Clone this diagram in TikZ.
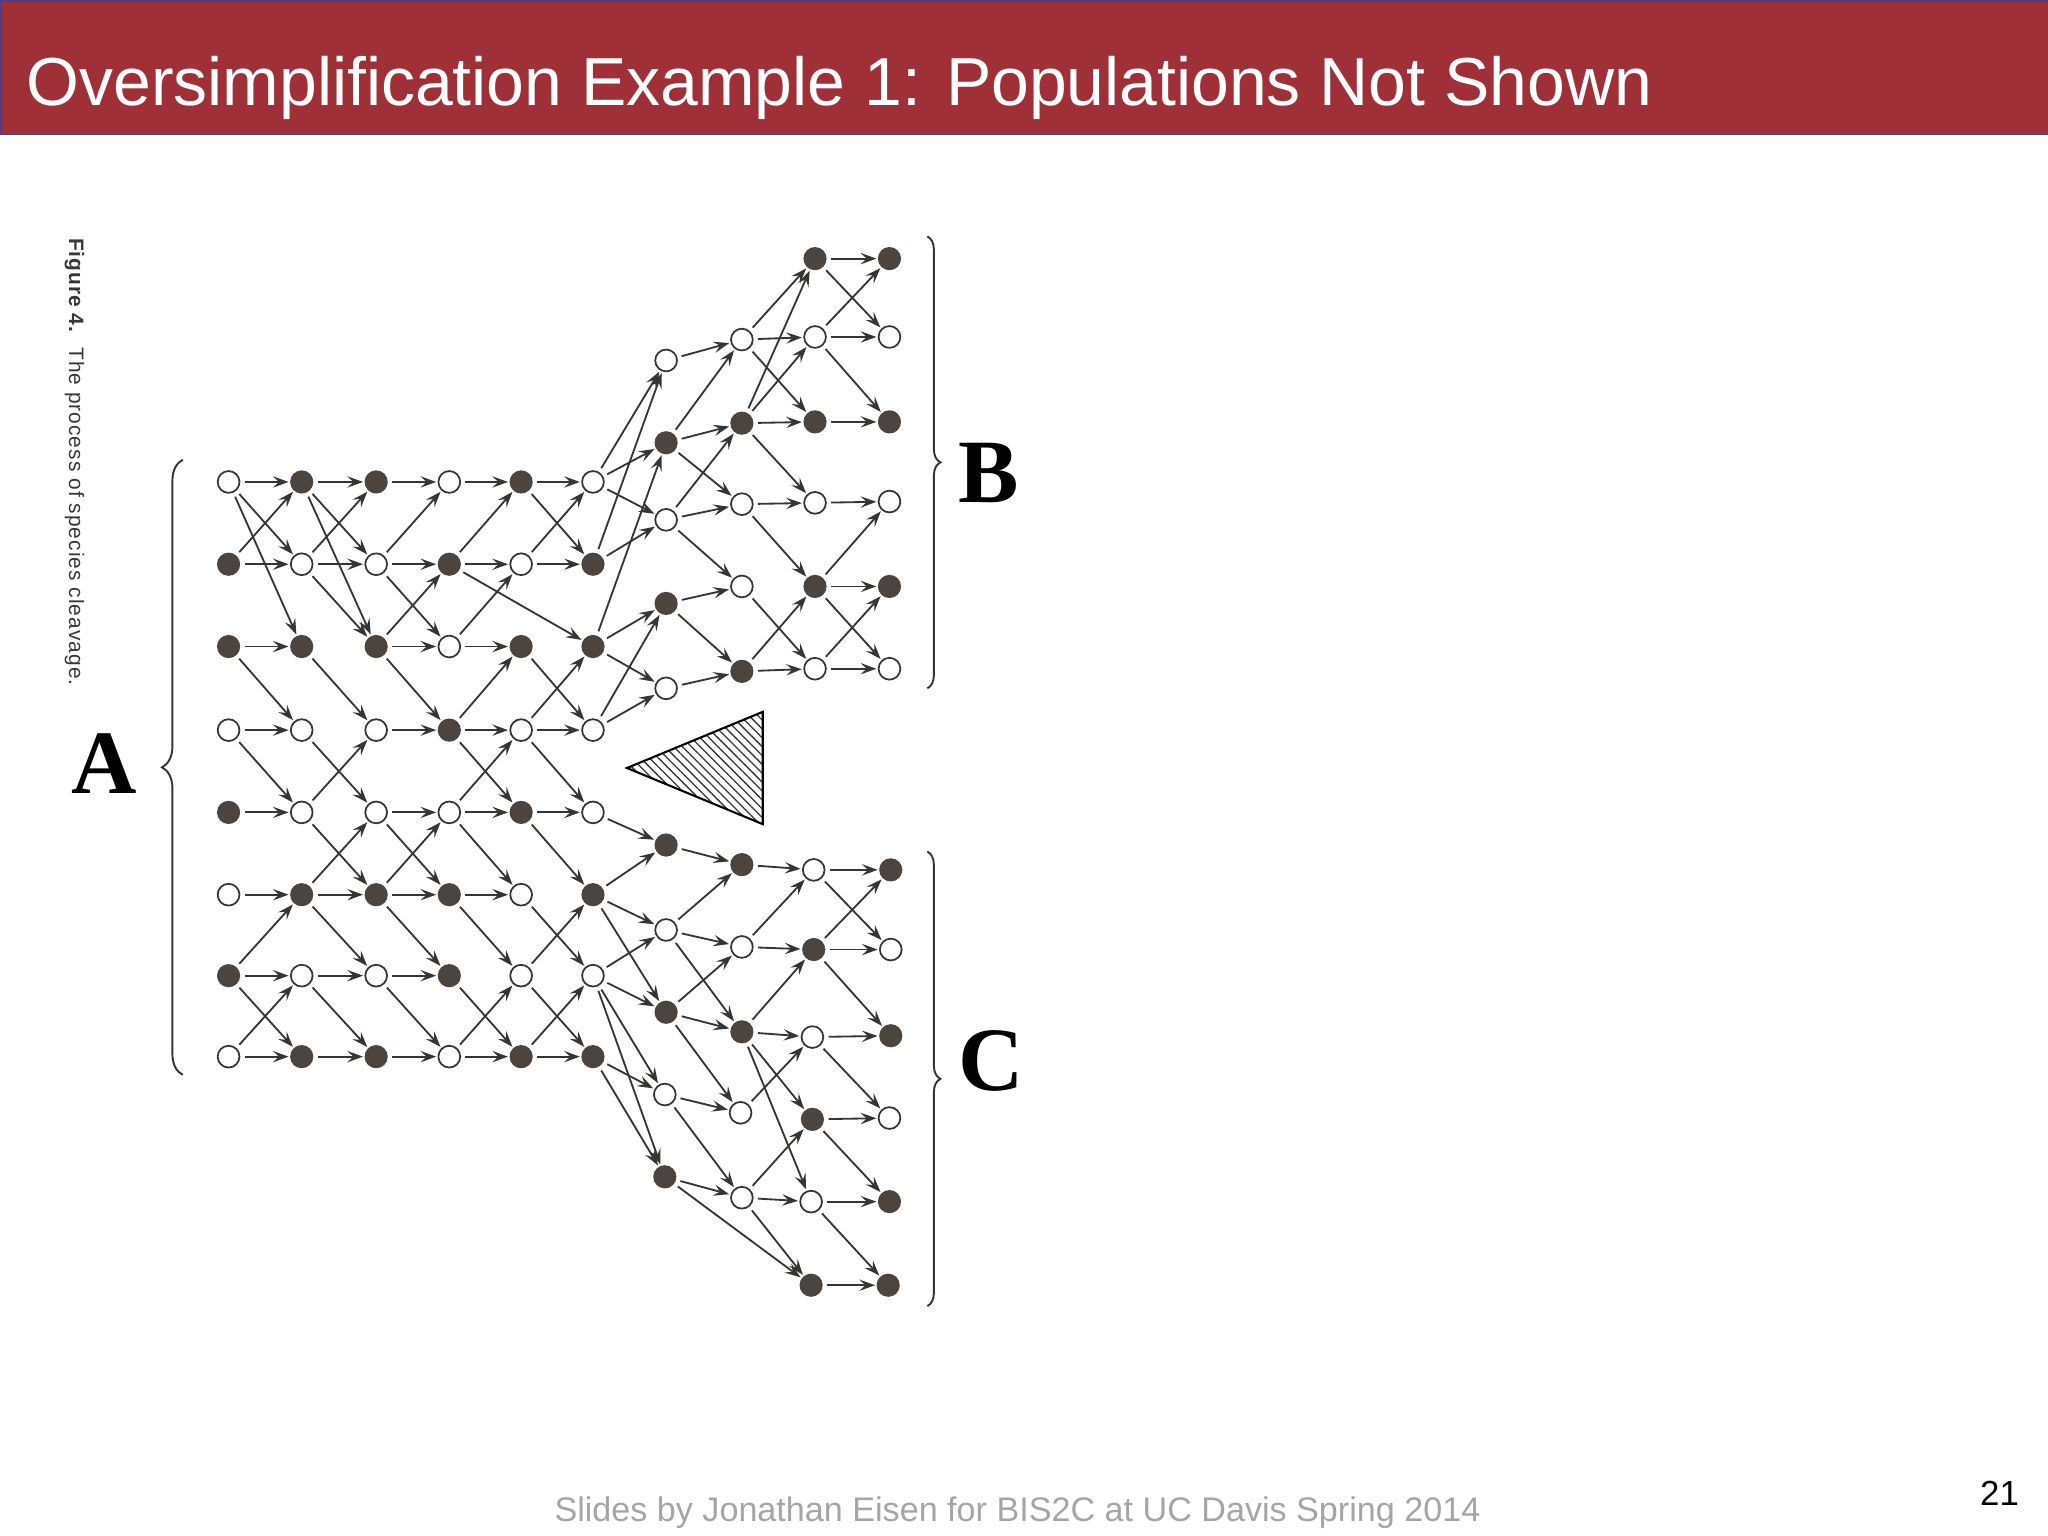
\documentclass[tikz,border=0pt]{standalone}
\usepackage{fontspec}
\setmainfont{Liberation Sans}
\newfontfamily\timesf{Liberation Serif}
\newfontfamily\capf{Liberation Sans}[LetterSpace=5]
\usetikzlibrary{arrows.meta,decorations.pathreplacing,patterns.meta}
\definecolor{titlered}{RGB}{160,48,56}
\definecolor{titleedge}{RGB}{80,60,140}
\definecolor{ink}{RGB}{55,53,51}
\definecolor{dot}{RGB}{75,68,63}
\definecolor{footgray}{RGB}{165,165,165}
\definecolor{capgray}{RGB}{55,55,55}
\tikzset{
  dotF/.style={circle, fill=dot, draw=dot, line width=0.8pt, minimum size=12.5pt, inner sep=0pt, outer sep=1pt},
  dotO/.style={circle, fill=white, draw=ink, line width=1pt, minimum size=12.5pt, inner sep=0pt, outer sep=1pt},
  arr/.style={draw=ink, line width=1.05pt, -{Stealth[length=9pt,width=6.5pt,inset=3.5pt]}, shorten <=2pt, shorten >=0.3pt},
  bracestyle/.style={draw=ink, line width=1.1pt, decorate},
  biglab/.style={font=\timesf\bfseries\fontsize{52}{52}\selectfont, text=black, inner sep=0pt},
}
\begin{document}
\begin{tikzpicture}[x=0.75pt,y=-0.75pt]
\useasboundingbox (0,0) rectangle (1568,1176);
\fill[white] (0,0) rectangle (1568,1176);
% title bar
\fill[titlered] (0,0) rectangle (1568,103);
\draw[titleedge, line width=1pt] (1568,1) -- (1,1) -- (1,103) -- (1568,103);
\node[anchor=base west, text=white, inner sep=0pt, font=\fontsize{39}{39}\selectfont] (title) at (20,81) {Oversimplification Example 1: Populations Not Shown};
% footer
\node[anchor=base, text=footgray, inner sep=0pt, font=\fontsize{19.6}{20}\selectfont] (foot) at (779,1165) {Slides by Jonathan Eisen for BIS2C at UC Davis Spring 2014};
\node[anchor=base east, text=black, inner sep=0pt, font=\fontsize{20}{20}\selectfont] (pnum) at (1546,1153) {21};
% caption
\node[rotate=-90, anchor=west, inner sep=0pt, text=capgray, font=\capf\fontsize{12}{13}\selectfont] (cap) at (57,182) {\textbf{Figure 4.}\ \ The process of species cleavage.};
% nodes of A
\foreach \n/\x/\y/\t in {
 a11/175/369/O, a12/231/369/F, a13/288/369/F, a14/344/369/O, a15/399/369/F, a16/454/369/O,
 a21/175/432/F, a22/231/432/O, a23/288/432/O, a24/344/432/F, a25/399/432/O, a26/454/432/F,
 a31/175/495/F, a32/231/495/F, a33/288/495/F, a34/344/495/O, a35/399/495/F, a36/454/495/F,
 a41/175/559/O, a42/231/559/O, a43/288/559/O, a44/344/559/F, a45/399/559/O, a46/454/559/O,
 a51/175/622/F, a52/231/622/O, a53/288/622/O, a54/344/622/O, a55/399/622/F, a56/454/622/O,
 a61/175/685/O, a62/231/685/F, a63/288/685/F, a64/344/685/F, a65/399/685/O, a66/454/685/F,
 a71/175/747/F, a72/231/747/O, a73/288/747/O, a74/344/747/F, a75/399/747/O, a76/454/747/O,
 a81/175/809/O, a82/231/809/F, a83/288/809/F, a84/344/809/O, a85/399/809/F, a86/454/809/F}
  \node[dot\t] (\n) at (\x,\y) {};
% nodes of B
\foreach \n/\x/\y/\t in {
 bp1/510/276/O, bp2/510/339/F, bp3/510/398/O, bp4/510/462/F, bp5/510/527/O,
 bq1/568/260/O, bq2/568/324/F, bq3/568/386/O, bq4/568/449/O, bq5/568/514/F,
 br1/624/198/F, br2/624/258/O, br3/624/323/F, br4/624/385/O, br5/624/449/F, br6/624/512/O,
 bs1/681/198/F, bs2/681/258/O, bs3/681/323/F, bs4/681/384/O, bs5/681/449/F, bs6/681/512/O}
  \node[dot\t] (\n) at (\x,\y) {};
% nodes of C
\foreach \n/\x/\y/\t in {
 cp1/510/647/F, cp2/510/712/O, cp3/510/775/F, cp4/509/838/O, cp5/509/901/F,
 cq1/568/662/F, cq2/568/725/O, cq3/568/790/F, cq4/567/852/O, cq5/568/917/O,
 cr1/623/666/O, cr2/623/727/F, cr3/622/794/O, cr4/622/857/F, cr5/621/920/O, cr6/621/984/F,
 cs1/682/666/F, cs2/682/727/O, cs3/682/793/F, cs4/681/856/O, cs5/681/920/F, cs6/680/984/F}
  \node[dot\t] (\n) at (\x,\y) {};
% edges of A
\foreach \s/\e in {
 a11/a12, a12/a13, a13/a14, a14/a15, a15/a16,
 a21/a22, a22/a23, a23/a24, a24/a25, a25/a26,
 a31/a32, a33/a34, a34/a35,
 a41/a42, a43/a44, a44/a45, a45/a46,
 a51/a52, a53/a54, a54/a55, a55/a56,
 a61/a62, a62/a63, a63/a64, a64/a65,
 a71/a72, a72/a73, a73/a74,
 a81/a82, a82/a83, a83/a84, a84/a85, a85/a86,
 a11/a22, a11/a32, a21/a12, a12/a23, a12/a33, a22/a33, a22/a13, a23/a14, a23/a34, a33/a24,
 a24/a15, a24/a36, a34/a25, a15/a26, a25/a16,
 a31/a42, a32/a43, a33/a44, a44/a35, a35/a46, a45/a36,
 a41/a52, a42/a53, a52/a43, a44/a55, a54/a45, a45/a56,
 a52/a63, a62/a53, a53/a64, a63/a54, a54/a65, a55/a66,
 a71/a62, a62/a73, a63/a74, a64/a75, a65/a76, a75/a66,
 a71/a82, a81/a72, a72/a83, a73/a84, a74/a85, a84/a75, a75/a86, a85/a76}
  \draw[arr] (\s) -- (\e);
% edges of B
\foreach \s/\e in {
 a16/bp1, a26/bp1, a16/bp2, a36/bp2, a16/bp3, a26/bp3, a36/bp4, a46/bp4, a36/bp5, a46/bp5,
 bp1/bq1, bp2/bq1, bp2/bq2, bp2/bq3, bp3/bq2, bp3/bq3, bp3/bq4, bp4/bq4, bp4/bq5, bp5/bq5,
 bq1/br1, bq2/br1, bq1/br2, bq1/br3, bq2/br2, bq2/br3, bq2/br4, bq3/br4, bq3/br5, bq4/br6, bq5/br5, bq5/br6,
 br1/bs1, br1/bs2, br2/bs1, br2/bs2, br2/bs3, br3/bs3, br4/bs4, br5/bs4, br5/bs5, br5/bs6, br6/bs5, br6/bs6}
  \draw[arr] (\s) -- (\e);
% edges of C
\foreach \s/\e in {
 a56/cp1, a66/cp1, a66/cp2, a76/cp2, a76/cp3, a66/cp3, a86/cp4, a76/cp4, a86/cp5, a76/cp5,
 cp1/cq1, cp2/cq1, cp2/cq2, cp2/cq3, cp3/cq2, cp3/cq3, cp3/cq4, cp4/cq4, cp4/cq5, cp5/cq5, cp5/cr6,
 cq1/cr1, cq2/cr1, cq2/cr2, cq3/cr2, cq3/cr3, cq3/cr4, cq3/cr5, cq4/cr3, cq5/cr4, cq5/cr5, cq5/cr6,
 cr1/cs1, cr1/cs2, cr2/cs1, cr2/cs2, cr2/cs3, cr3/cs3, cr3/cs4, cr4/cs4, cr4/cs5, cr5/cs5, cr5/cs6, cr6/cs6}
  \draw[arr] (\s) -- (\e);
% hatched triangle
\draw[black, line width=1.2pt, pattern={Lines[angle=-45,distance=3.6pt,line width=0.75pt]}, pattern color=ink]
  (480,588) -- (584,545) -- (584,631) -- cycle;
% braces
\draw[bracestyle, decoration={brace, amplitude=12pt}] (140,823) -- (140,352);
\draw[bracestyle, decoration={brace, amplitude=7.5pt}] (710,181) -- (710,527);
\draw[bracestyle, decoration={brace, amplitude=7.5pt}] (710,652) -- (710,1000);
% labels
\node[biglab] (labA) at (80,585) {A};
\node[biglab] (labB) at (757,362) {B};
\node[biglab] (labC) at (759,812) {C};
\end{tikzpicture}
\end{document}
